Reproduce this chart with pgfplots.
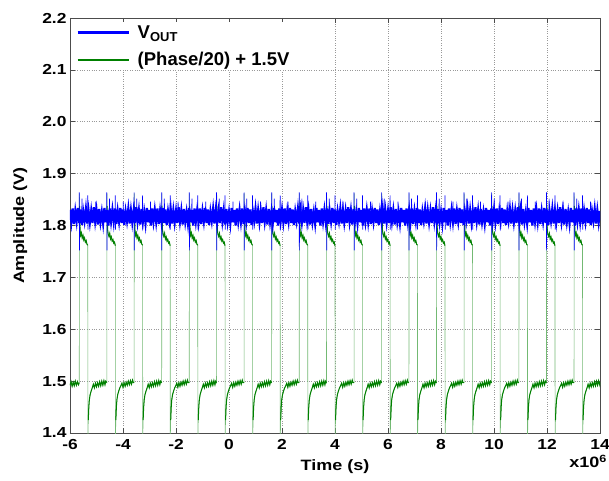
\documentclass[border=0pt]{standalone}
\usepackage{fontspec}
\setmainfont{Liberation Sans}
\newfontfamily\tickfam{Liberation Sans}[FakeStretch=1.2]
\usepackage{pgfplots}
\usepackage{pgfplotstable}
\pgfplotsset{compat=1.18}
\usetikzlibrary{calc}
\definecolor{vblue}{RGB}{0,0,255}
\definecolor{pgreen}{RGB}{0,128,0}
\definecolor{lgreen}{RGB}{115,185,115}
\newcommand{\tickfont}{\tickfam\fontsize{14.5bp}{16bp}\selectfont\bfseries}
\newcommand{\lblfont}{\tickfam\fontsize{15bp}{17bp}\selectfont\bfseries}
\newcommand{\legfont}{\fontsize{18.5bp}{20bp}\selectfont\bfseries}

% (Phase/20) + 1.5 V
\pgfplotstableread[row sep=\\]{
x y\\
-6.00 1.492\\ -5.96 1.499\\ -5.92 1.490\\ -5.88 1.498\\ -5.84 1.491\\ -5.80 1.500\\ -5.76 1.492\\ -5.72 1.499\\ -5.68 1.493\\
-5.65 1.497\\ -5.645 1.862\\ -5.64 1.838\\ -5.63 1.810\\ -5.62 1.792\\ -5.60 1.781\\ -5.57 1.786\\ -5.54 1.776\\ -5.51 1.781\\ -5.48 1.772\\ -5.45 1.776\\ -5.42 1.768\\ -5.39 1.771\\ -5.36 1.764\\ -5.33 1.762\\ -5.325 1.390\\ -5.31 1.425\\ -5.29 1.450\\ -5.27 1.464\\ -5.24 1.474\\ -5.20 1.481\\ -5.16 1.487\\ -5.12 1.494\\ -5.08 1.487\\ -5.04 1.496\\ -5.00 1.489\\ -4.96 1.497\\ -4.92 1.490\\ -4.88 1.499\\ -4.84 1.491\\ -4.80 1.500\\ -4.76 1.492\\ -4.72 1.501\\ -4.68 1.493\\ -4.65 1.500\\
-4.61 1.497\\ -4.605 1.862\\ -4.60 1.838\\ -4.59 1.810\\ -4.58 1.792\\ -4.56 1.784\\ -4.53 1.779\\ -4.50 1.785\\ -4.47 1.774\\ -4.44 1.778\\ -4.41 1.770\\ -4.38 1.773\\ -4.35 1.766\\ -4.32 1.768\\ -4.29 1.761\\ -4.285 1.390\\ -4.27 1.425\\ -4.25 1.450\\ -4.23 1.464\\ -4.20 1.474\\ -4.16 1.481\\ -4.12 1.487\\ -4.08 1.491\\ -4.04 1.496\\ -4.00 1.488\\ -3.96 1.497\\ -3.92 1.490\\ -3.88 1.498\\ -3.84 1.492\\ -3.80 1.500\\ -3.76 1.493\\ -3.72 1.501\\ -3.68 1.494\\ -3.64 1.502\\ -3.61 1.497\\
-3.58 1.497\\ -3.575 1.862\\ -3.57 1.838\\ -3.56 1.810\\ -3.55 1.792\\ -3.53 1.781\\ -3.50 1.786\\ -3.47 1.776\\ -3.44 1.781\\ -3.41 1.772\\ -3.38 1.776\\ -3.35 1.768\\ -3.32 1.771\\ -3.29 1.764\\ -3.26 1.762\\ -3.255 1.390\\ -3.24 1.425\\ -3.22 1.450\\ -3.20 1.464\\ -3.17 1.474\\ -3.13 1.481\\ -3.09 1.487\\ -3.05 1.494\\ -3.01 1.487\\ -2.97 1.496\\ -2.93 1.489\\ -2.89 1.497\\ -2.85 1.490\\ -2.81 1.499\\ -2.77 1.491\\ -2.73 1.500\\ -2.69 1.492\\ -2.65 1.501\\ -2.61 1.493\\ -2.58 1.500\\
-2.54 1.497\\ -2.535 1.862\\ -2.53 1.838\\ -2.52 1.810\\ -2.51 1.792\\ -2.49 1.784\\ -2.46 1.779\\ -2.43 1.785\\ -2.40 1.774\\ -2.37 1.778\\ -2.34 1.770\\ -2.31 1.773\\ -2.28 1.766\\ -2.25 1.768\\ -2.22 1.761\\ -2.215 1.390\\ -2.20 1.425\\ -2.18 1.450\\ -2.16 1.464\\ -2.13 1.474\\ -2.09 1.481\\ -2.05 1.487\\ -2.01 1.491\\ -1.97 1.496\\ -1.93 1.488\\ -1.89 1.497\\ -1.85 1.490\\ -1.81 1.498\\ -1.77 1.492\\ -1.73 1.500\\ -1.69 1.493\\ -1.65 1.501\\ -1.61 1.494\\ -1.57 1.502\\ -1.54 1.497\\
-1.50 1.497\\ -1.495 1.862\\ -1.49 1.838\\ -1.48 1.810\\ -1.47 1.792\\ -1.45 1.781\\ -1.42 1.786\\ -1.39 1.776\\ -1.36 1.781\\ -1.33 1.772\\ -1.30 1.776\\ -1.27 1.768\\ -1.24 1.771\\ -1.21 1.764\\ -1.18 1.762\\ -1.175 1.390\\ -1.16 1.425\\ -1.14 1.450\\ -1.12 1.464\\ -1.09 1.474\\ -1.05 1.481\\ -1.01 1.487\\ -0.97 1.494\\ -0.93 1.487\\ -0.89 1.496\\ -0.85 1.489\\ -0.81 1.497\\ -0.77 1.490\\ -0.73 1.499\\ -0.69 1.491\\ -0.65 1.500\\ -0.61 1.492\\ -0.57 1.501\\ -0.53 1.493\\ -0.50 1.500\\
-0.47 1.497\\ -0.465 1.862\\ -0.46 1.838\\ -0.45 1.810\\ -0.44 1.792\\ -0.42 1.784\\ -0.39 1.779\\ -0.36 1.785\\ -0.33 1.774\\ -0.30 1.778\\ -0.27 1.770\\ -0.24 1.773\\ -0.21 1.766\\ -0.18 1.768\\ -0.15 1.761\\ -0.145 1.390\\ -0.13 1.425\\ -0.11 1.450\\ -0.09 1.464\\ -0.06 1.474\\ -0.02 1.481\\ 0.02 1.487\\ 0.06 1.491\\ 0.10 1.496\\ 0.14 1.488\\ 0.18 1.497\\ 0.22 1.490\\ 0.26 1.498\\ 0.30 1.492\\ 0.34 1.500\\ 0.38 1.493\\ 0.42 1.501\\ 0.46 1.494\\ 0.50 1.502\\ 0.53 1.497\\
0.57 1.497\\ 0.575 1.862\\ 0.58 1.838\\ 0.59 1.810\\ 0.60 1.792\\ 0.62 1.781\\ 0.65 1.786\\ 0.68 1.776\\ 0.71 1.781\\ 0.74 1.772\\ 0.77 1.776\\ 0.80 1.768\\ 0.83 1.771\\ 0.86 1.764\\ 0.89 1.762\\ 0.895 1.390\\ 0.91 1.425\\ 0.93 1.450\\ 0.95 1.464\\ 0.98 1.474\\ 1.02 1.481\\ 1.06 1.487\\ 1.10 1.494\\ 1.14 1.487\\ 1.18 1.496\\ 1.22 1.489\\ 1.26 1.497\\ 1.30 1.490\\ 1.34 1.499\\ 1.38 1.491\\ 1.42 1.500\\ 1.46 1.492\\ 1.50 1.501\\ 1.54 1.493\\ 1.57 1.500\\
1.61 1.497\\ 1.615 1.862\\ 1.62 1.838\\ 1.63 1.810\\ 1.64 1.792\\ 1.66 1.784\\ 1.69 1.779\\ 1.72 1.785\\ 1.75 1.774\\ 1.78 1.778\\ 1.81 1.770\\ 1.84 1.773\\ 1.87 1.766\\ 1.90 1.768\\ 1.93 1.761\\ 1.935 1.390\\ 1.95 1.425\\ 1.97 1.450\\ 1.99 1.464\\ 2.02 1.474\\ 2.06 1.481\\ 2.10 1.487\\ 2.14 1.491\\ 2.18 1.496\\ 2.22 1.488\\ 2.26 1.497\\ 2.30 1.490\\ 2.34 1.498\\ 2.38 1.492\\ 2.42 1.500\\ 2.46 1.493\\ 2.50 1.501\\ 2.54 1.494\\ 2.58 1.502\\ 2.61 1.497\\
2.65 1.497\\ 2.655 1.862\\ 2.66 1.838\\ 2.67 1.810\\ 2.68 1.792\\ 2.70 1.781\\ 2.73 1.786\\ 2.76 1.776\\ 2.79 1.781\\ 2.82 1.772\\ 2.85 1.776\\ 2.88 1.768\\ 2.91 1.771\\ 2.94 1.764\\ 2.97 1.762\\ 2.975 1.390\\ 2.99 1.425\\ 3.01 1.450\\ 3.03 1.464\\ 3.06 1.474\\ 3.10 1.481\\ 3.14 1.487\\ 3.18 1.494\\ 3.22 1.487\\ 3.26 1.496\\ 3.30 1.489\\ 3.34 1.497\\ 3.38 1.490\\ 3.42 1.499\\ 3.46 1.491\\ 3.50 1.500\\ 3.54 1.492\\ 3.58 1.501\\ 3.62 1.493\\ 3.65 1.500\\
3.68 1.497\\ 3.685 1.862\\ 3.69 1.838\\ 3.70 1.810\\ 3.71 1.792\\ 3.73 1.784\\ 3.76 1.779\\ 3.79 1.785\\ 3.82 1.774\\ 3.85 1.778\\ 3.88 1.770\\ 3.91 1.773\\ 3.94 1.766\\ 3.97 1.768\\ 4.00 1.761\\ 4.005 1.390\\ 4.02 1.425\\ 4.04 1.450\\ 4.06 1.464\\ 4.09 1.474\\ 4.13 1.481\\ 4.17 1.487\\ 4.21 1.491\\ 4.25 1.496\\ 4.29 1.488\\ 4.33 1.497\\ 4.37 1.490\\ 4.41 1.498\\ 4.45 1.492\\ 4.49 1.500\\ 4.53 1.493\\ 4.57 1.501\\ 4.61 1.494\\ 4.65 1.502\\ 4.68 1.497\\
4.72 1.497\\ 4.725 1.862\\ 4.73 1.838\\ 4.74 1.810\\ 4.75 1.792\\ 4.77 1.781\\ 4.80 1.786\\ 4.83 1.776\\ 4.86 1.781\\ 4.89 1.772\\ 4.92 1.776\\ 4.95 1.768\\ 4.98 1.771\\ 5.01 1.764\\ 5.04 1.762\\ 5.045 1.390\\ 5.06 1.425\\ 5.08 1.450\\ 5.10 1.464\\ 5.13 1.474\\ 5.17 1.481\\ 5.21 1.487\\ 5.25 1.494\\ 5.29 1.487\\ 5.33 1.496\\ 5.37 1.489\\ 5.41 1.497\\ 5.45 1.490\\ 5.49 1.499\\ 5.53 1.491\\ 5.57 1.500\\ 5.61 1.492\\ 5.65 1.501\\ 5.69 1.493\\ 5.72 1.500\\
5.76 1.497\\ 5.765 1.862\\ 5.77 1.838\\ 5.78 1.810\\ 5.79 1.792\\ 5.81 1.784\\ 5.84 1.779\\ 5.87 1.785\\ 5.90 1.774\\ 5.93 1.778\\ 5.96 1.770\\ 5.99 1.773\\ 6.02 1.766\\ 6.05 1.768\\ 6.08 1.761\\ 6.085 1.390\\ 6.10 1.425\\ 6.12 1.450\\ 6.14 1.464\\ 6.17 1.474\\ 6.21 1.481\\ 6.25 1.487\\ 6.29 1.491\\ 6.33 1.496\\ 6.37 1.488\\ 6.41 1.497\\ 6.45 1.490\\ 6.49 1.498\\ 6.53 1.492\\ 6.57 1.500\\ 6.61 1.493\\ 6.65 1.501\\ 6.69 1.494\\ 6.73 1.502\\ 6.76 1.497\\
6.79 1.497\\ 6.795 1.862\\ 6.80 1.838\\ 6.81 1.810\\ 6.82 1.792\\ 6.84 1.781\\ 6.87 1.786\\ 6.90 1.776\\ 6.93 1.781\\ 6.96 1.772\\ 6.99 1.776\\ 7.02 1.768\\ 7.05 1.771\\ 7.08 1.764\\ 7.11 1.762\\ 7.115 1.390\\ 7.13 1.425\\ 7.15 1.450\\ 7.17 1.464\\ 7.20 1.474\\ 7.24 1.481\\ 7.28 1.487\\ 7.32 1.494\\ 7.36 1.487\\ 7.40 1.496\\ 7.44 1.489\\ 7.48 1.497\\ 7.52 1.490\\ 7.56 1.499\\ 7.60 1.491\\ 7.64 1.500\\ 7.68 1.492\\ 7.72 1.501\\ 7.76 1.493\\ 7.79 1.500\\
7.83 1.497\\ 7.835 1.862\\ 7.84 1.838\\ 7.85 1.810\\ 7.86 1.792\\ 7.88 1.784\\ 7.91 1.779\\ 7.94 1.785\\ 7.97 1.774\\ 8.00 1.778\\ 8.03 1.770\\ 8.06 1.773\\ 8.09 1.766\\ 8.12 1.768\\ 8.15 1.761\\ 8.155 1.390\\ 8.17 1.425\\ 8.19 1.450\\ 8.21 1.464\\ 8.24 1.474\\ 8.28 1.481\\ 8.32 1.487\\ 8.36 1.491\\ 8.40 1.496\\ 8.44 1.488\\ 8.48 1.497\\ 8.52 1.490\\ 8.56 1.498\\ 8.60 1.492\\ 8.64 1.500\\ 8.68 1.493\\ 8.72 1.501\\ 8.76 1.494\\ 8.80 1.502\\ 8.83 1.497\\
8.87 1.497\\ 8.875 1.862\\ 8.88 1.838\\ 8.89 1.810\\ 8.90 1.792\\ 8.92 1.781\\ 8.95 1.786\\ 8.98 1.776\\ 9.01 1.781\\ 9.04 1.772\\ 9.07 1.776\\ 9.10 1.768\\ 9.13 1.771\\ 9.16 1.764\\ 9.19 1.762\\ 9.195 1.390\\ 9.21 1.425\\ 9.23 1.450\\ 9.25 1.464\\ 9.28 1.474\\ 9.32 1.481\\ 9.36 1.487\\ 9.40 1.494\\ 9.44 1.487\\ 9.48 1.496\\ 9.52 1.489\\ 9.56 1.497\\ 9.60 1.490\\ 9.64 1.499\\ 9.68 1.491\\ 9.72 1.500\\ 9.76 1.492\\ 9.80 1.501\\ 9.84 1.493\\ 9.87 1.500\\
9.91 1.497\\ 9.915 1.862\\ 9.92 1.838\\ 9.93 1.810\\ 9.94 1.792\\ 9.96 1.784\\ 9.99 1.779\\ 10.02 1.785\\ 10.05 1.774\\ 10.08 1.778\\ 10.11 1.770\\ 10.14 1.773\\ 10.17 1.766\\ 10.20 1.768\\ 10.23 1.761\\ 10.235 1.390\\ 10.25 1.425\\ 10.27 1.450\\ 10.29 1.464\\ 10.32 1.474\\ 10.36 1.481\\ 10.40 1.487\\ 10.44 1.491\\ 10.48 1.496\\ 10.52 1.488\\ 10.56 1.497\\ 10.60 1.490\\ 10.64 1.498\\ 10.68 1.492\\ 10.72 1.500\\ 10.76 1.493\\ 10.80 1.501\\ 10.84 1.494\\ 10.88 1.502\\ 10.91 1.497\\
10.94 1.497\\ 10.945 1.862\\ 10.95 1.838\\ 10.96 1.810\\ 10.97 1.792\\ 10.99 1.781\\ 11.02 1.786\\ 11.05 1.776\\ 11.08 1.781\\ 11.11 1.772\\ 11.14 1.776\\ 11.17 1.768\\ 11.20 1.771\\ 11.23 1.764\\ 11.26 1.762\\ 11.265 1.390\\ 11.28 1.425\\ 11.30 1.450\\ 11.32 1.464\\ 11.35 1.474\\ 11.39 1.481\\ 11.43 1.487\\ 11.47 1.494\\ 11.51 1.487\\ 11.55 1.496\\ 11.59 1.489\\ 11.63 1.497\\ 11.67 1.490\\ 11.71 1.499\\ 11.75 1.491\\ 11.79 1.500\\ 11.83 1.492\\ 11.87 1.501\\ 11.91 1.493\\ 11.94 1.500\\
11.98 1.497\\ 11.985 1.862\\ 11.99 1.838\\ 12.00 1.810\\ 12.01 1.792\\ 12.03 1.784\\ 12.06 1.779\\ 12.09 1.785\\ 12.12 1.774\\ 12.15 1.778\\ 12.18 1.770\\ 12.21 1.773\\ 12.24 1.766\\ 12.27 1.768\\ 12.30 1.761\\ 12.305 1.390\\ 12.32 1.425\\ 12.34 1.450\\ 12.36 1.464\\ 12.39 1.474\\ 12.43 1.481\\ 12.47 1.487\\ 12.51 1.491\\ 12.55 1.496\\ 12.59 1.488\\ 12.63 1.497\\ 12.67 1.490\\ 12.71 1.498\\ 12.75 1.492\\ 12.79 1.500\\ 12.83 1.493\\ 12.87 1.501\\ 12.91 1.494\\ 12.95 1.502\\ 12.98 1.497\\
13.02 1.497\\ 13.025 1.862\\ 13.03 1.838\\ 13.04 1.810\\ 13.05 1.792\\ 13.07 1.781\\ 13.10 1.786\\ 13.13 1.776\\ 13.16 1.781\\ 13.19 1.772\\ 13.22 1.776\\ 13.25 1.768\\ 13.28 1.771\\ 13.31 1.764\\ 13.34 1.762\\ 13.345 1.390\\ 13.36 1.425\\ 13.38 1.450\\ 13.40 1.464\\ 13.43 1.474\\ 13.47 1.481\\ 13.51 1.487\\ 13.55 1.494\\ 13.59 1.487\\ 13.63 1.496\\ 13.67 1.489\\ 13.71 1.497\\ 13.75 1.490\\ 13.79 1.499\\ 13.83 1.491\\ 13.87 1.500\\ 13.91 1.492\\ 13.95 1.501\\ 13.99 1.493\\ 14.00 1.498\\
}\phasetab

\begin{document}
\begin{tikzpicture}
\begin{axis}[
 width=530bp, height=415bp, scale only axis,
 xmin=-6, xmax=14, ymin=1.4, ymax=2.2,
 xtick={-6,-4,-2,0,2,4,6,8,10,12,14},
 ytick={1.4,1.5,1.6,1.7,1.8,1.9,2.0,2.1,2.2},
 yticklabel style={/pgf/number format/.cd, fixed, fixed zerofill, precision=1},
 xticklabel style={yshift=-3bp},
 /pgf/number format/assume math mode=true,
 tick label style={font=\tickfont},
 grid=major, grid style={dotted, line width=0.6bp, black!40},
 tick align=inside, major tick length=5bp,
 axis line style={line width=0.6bp, black!70},
 every tick/.style={black!70, line width=0.6bp},
 xlabel={Time (s)}, ylabel={Amplitude (V)},
 label style={font=\lblfont},
 xlabel style={at={(axis description cs:0.5,-0.082)}, anchor=center},
 ylabel style={at={(axis description cs:-0.094,0.5)}, anchor=center},
 unbounded coords=jump,
 legend style={draw=none, fill=white, at={(axis description cs:0.010,0.990)}, anchor=north west, font=\legfont, row sep=9bp, inner sep=1bp},
 legend cell align=left,
 legend image code/.code={\path[draw=none] (0bp,0bp) -- (58bp,0bp);\draw[#1,line width=2.5bp] (0bp,0bp) -- (51bp,0bp);},
]
\addlegendimage{vblue}
\addlegendentry{V\textsubscript{OUT}}
\addlegendimage{pgreen}
\addlegendentry{(Phase/20) + 1.5V}

% green trace: thin pale transitions, then the dense noisy levels over it
\addplot[lgreen, line width=0.6bp, forget plot] table[x=x, y=y] {\phasetab};
\addplot[pgreen, line width=1.0bp, forget plot, restrict y to domain=1.40:1.845] table[x=x, y=y] {\phasetab};

% blue: VOUT noise band
\addplot[vblue, line width=2.2bp, forget plot] coordinates {
(-6.00,1.830)(-5.95,1.807)(-5.90,1.833)(-5.85,1.803)(-5.80,1.828)(-5.75,1.808)(-5.70,1.834)(-5.65,1.805)(-5.60,1.831)(-5.55,1.801)(-5.50,1.827)(-5.45,1.809)(-5.40,1.832)(-5.35,1.804)(-5.30,1.829)(-5.25,1.806)
(-5.20,1.828)(-5.15,1.805)(-5.10,1.835)(-5.05,1.808)(-5.00,1.829)(-4.95,1.802)(-4.90,1.832)(-4.85,1.807)(-4.80,1.826)(-4.75,1.804)(-4.70,1.834)(-4.65,1.806)(-4.60,1.830)(-4.55,1.800)(-4.50,1.833)(-4.45,1.808)
(-4.40,1.830)(-4.35,1.807)(-4.30,1.833)(-4.25,1.803)(-4.20,1.828)(-4.15,1.808)(-4.10,1.834)(-4.05,1.805)(-4.00,1.831)(-3.95,1.801)(-3.90,1.827)(-3.85,1.809)(-3.80,1.832)(-3.75,1.804)(-3.70,1.829)(-3.65,1.806)
(-3.60,1.828)(-3.55,1.805)(-3.50,1.835)(-3.45,1.808)(-3.40,1.829)(-3.35,1.802)(-3.30,1.832)(-3.25,1.807)(-3.20,1.826)(-3.15,1.804)(-3.10,1.834)(-3.05,1.806)(-3.00,1.830)(-2.95,1.800)(-2.90,1.833)(-2.85,1.808)
(-2.80,1.830)(-2.75,1.807)(-2.70,1.833)(-2.65,1.803)(-2.60,1.828)(-2.55,1.808)(-2.50,1.834)(-2.45,1.805)(-2.40,1.831)(-2.35,1.801)(-2.30,1.827)(-2.25,1.809)(-2.20,1.832)(-2.15,1.804)(-2.10,1.829)(-2.05,1.806)
(-2.00,1.828)(-1.95,1.805)(-1.90,1.835)(-1.85,1.808)(-1.80,1.829)(-1.75,1.802)(-1.70,1.832)(-1.65,1.807)(-1.60,1.826)(-1.55,1.804)(-1.50,1.834)(-1.45,1.806)(-1.40,1.830)(-1.35,1.800)(-1.30,1.833)(-1.25,1.808)
(-1.20,1.830)(-1.15,1.807)(-1.10,1.833)(-1.05,1.803)(-1.00,1.828)(-0.95,1.808)(-0.90,1.834)(-0.85,1.805)(-0.80,1.831)(-0.75,1.801)(-0.70,1.827)(-0.65,1.809)(-0.60,1.832)(-0.55,1.804)(-0.50,1.829)(-0.45,1.806)
(-0.40,1.828)(-0.35,1.805)(-0.30,1.835)(-0.25,1.808)(-0.20,1.829)(-0.15,1.802)(-0.10,1.832)(-0.05,1.807)(0.00,1.826)(0.05,1.804)(0.10,1.834)(0.15,1.806)(0.20,1.830)(0.25,1.800)(0.30,1.833)(0.35,1.808)
(0.40,1.830)(0.45,1.807)(0.50,1.833)(0.55,1.803)(0.60,1.828)(0.65,1.808)(0.70,1.834)(0.75,1.805)(0.80,1.831)(0.85,1.801)(0.90,1.827)(0.95,1.809)(1.00,1.832)(1.05,1.804)(1.10,1.829)(1.15,1.806)
(1.20,1.828)(1.25,1.805)(1.30,1.835)(1.35,1.808)(1.40,1.829)(1.45,1.802)(1.50,1.832)(1.55,1.807)(1.60,1.826)(1.65,1.804)(1.70,1.834)(1.75,1.806)(1.80,1.830)(1.85,1.800)(1.90,1.833)(1.95,1.808)
(2.00,1.830)(2.05,1.807)(2.10,1.833)(2.15,1.803)(2.20,1.828)(2.25,1.808)(2.30,1.834)(2.35,1.805)(2.40,1.831)(2.45,1.801)(2.50,1.827)(2.55,1.809)(2.60,1.832)(2.65,1.804)(2.70,1.829)(2.75,1.806)
(2.80,1.828)(2.85,1.805)(2.90,1.835)(2.95,1.808)(3.00,1.829)(3.05,1.802)(3.10,1.832)(3.15,1.807)(3.20,1.826)(3.25,1.804)(3.30,1.834)(3.35,1.806)(3.40,1.830)(3.45,1.800)(3.50,1.833)(3.55,1.808)
(3.60,1.830)(3.65,1.807)(3.70,1.833)(3.75,1.803)(3.80,1.828)(3.85,1.808)(3.90,1.834)(3.95,1.805)(4.00,1.831)(4.05,1.801)(4.10,1.827)(4.15,1.809)(4.20,1.832)(4.25,1.804)(4.30,1.829)(4.35,1.806)
(4.40,1.828)(4.45,1.805)(4.50,1.835)(4.55,1.808)(4.60,1.829)(4.65,1.802)(4.70,1.832)(4.75,1.807)(4.80,1.826)(4.85,1.804)(4.90,1.834)(4.95,1.806)(5.00,1.830)(5.05,1.800)(5.10,1.833)(5.15,1.808)
(5.20,1.830)(5.25,1.807)(5.30,1.833)(5.35,1.803)(5.40,1.828)(5.45,1.808)(5.50,1.834)(5.55,1.805)(5.60,1.831)(5.65,1.801)(5.70,1.827)(5.75,1.809)(5.80,1.832)(5.85,1.804)(5.90,1.829)(5.95,1.806)
(6.00,1.828)(6.05,1.805)(6.10,1.835)(6.15,1.808)(6.20,1.829)(6.25,1.802)(6.30,1.832)(6.35,1.807)(6.40,1.826)(6.45,1.804)(6.50,1.834)(6.55,1.806)(6.60,1.830)(6.65,1.800)(6.70,1.833)(6.75,1.808)
(6.80,1.830)(6.85,1.807)(6.90,1.833)(6.95,1.803)(7.00,1.828)(7.05,1.808)(7.10,1.834)(7.15,1.805)(7.20,1.831)(7.25,1.801)(7.30,1.827)(7.35,1.809)(7.40,1.832)(7.45,1.804)(7.50,1.829)(7.55,1.806)
(7.60,1.828)(7.65,1.805)(7.70,1.835)(7.75,1.808)(7.80,1.829)(7.85,1.802)(7.90,1.832)(7.95,1.807)(8.00,1.826)(8.05,1.804)(8.10,1.834)(8.15,1.806)(8.20,1.830)(8.25,1.800)(8.30,1.833)(8.35,1.808)
(8.40,1.830)(8.45,1.807)(8.50,1.833)(8.55,1.803)(8.60,1.828)(8.65,1.808)(8.70,1.834)(8.75,1.805)(8.80,1.831)(8.85,1.801)(8.90,1.827)(8.95,1.809)(9.00,1.832)(9.05,1.804)(9.10,1.829)(9.15,1.806)
(9.20,1.828)(9.25,1.805)(9.30,1.835)(9.35,1.808)(9.40,1.829)(9.45,1.802)(9.50,1.832)(9.55,1.807)(9.60,1.826)(9.65,1.804)(9.70,1.834)(9.75,1.806)(9.80,1.830)(9.85,1.800)(9.90,1.833)(9.95,1.808)
(10.00,1.830)(10.05,1.807)(10.10,1.833)(10.15,1.803)(10.20,1.828)(10.25,1.808)(10.30,1.834)(10.35,1.805)(10.40,1.831)(10.45,1.801)(10.50,1.827)(10.55,1.809)(10.60,1.832)(10.65,1.804)(10.70,1.829)(10.75,1.806)
(10.80,1.828)(10.85,1.805)(10.90,1.835)(10.95,1.808)(11.00,1.829)(11.05,1.802)(11.10,1.832)(11.15,1.807)(11.20,1.826)(11.25,1.804)(11.30,1.834)(11.35,1.806)(11.40,1.830)(11.45,1.800)(11.50,1.833)(11.55,1.808)
(11.60,1.830)(11.65,1.807)(11.70,1.833)(11.75,1.803)(11.80,1.828)(11.85,1.808)(11.90,1.834)(11.95,1.805)(12.00,1.831)(12.05,1.801)(12.10,1.827)(12.15,1.809)(12.20,1.832)(12.25,1.804)(12.30,1.829)(12.35,1.806)
(12.40,1.828)(12.45,1.805)(12.50,1.835)(12.55,1.808)(12.60,1.829)(12.65,1.802)(12.70,1.832)(12.75,1.807)(12.80,1.826)(12.85,1.804)(12.90,1.834)(12.95,1.806)(13.00,1.830)(13.05,1.800)(13.10,1.833)(13.15,1.808)
(13.20,1.830)(13.25,1.807)(13.30,1.833)(13.35,1.803)(13.40,1.828)(13.45,1.808)(13.50,1.834)(13.55,1.805)(13.60,1.831)(13.65,1.801)(13.70,1.827)(13.75,1.809)(13.80,1.832)(13.85,1.804)(13.90,1.829)(13.95,1.806)
(14.00,1.828)
};

% blue: VOUT spikes at the switching edges
\addplot[vblue, line width=0.7bp, forget plot] coordinates {
(-5.655,1.82)(-5.65,1.864)(-5.645,1.752)(-5.64,1.80)(-5.635,1.82)(-5.63,nan)(-5.555,1.825)(-5.55,1.852)(-5.545,1.83)(-5.54,nan)(-5.335,1.83)(-5.33,1.858)(-5.323,1.792)(-5.316,1.82)(-5.31,nan)(-5.035,1.83)(-5.03,1.846)(-5.025,1.83)(-5.02,nan)
(-4.615,1.82)(-4.61,1.864)(-4.605,1.752)(-4.60,1.80)(-4.595,1.82)(-4.59,nan)(-4.515,1.825)(-4.51,1.852)(-4.505,1.83)(-4.50,nan)(-4.295,1.83)(-4.29,1.858)(-4.283,1.792)(-4.276,1.82)(-4.27,nan)(-3.995,1.83)(-3.99,1.846)(-3.985,1.83)(-3.98,nan)
(-3.585,1.82)(-3.58,1.864)(-3.575,1.752)(-3.57,1.80)(-3.565,1.82)(-3.56,nan)(-3.485,1.825)(-3.48,1.852)(-3.475,1.83)(-3.47,nan)(-3.265,1.83)(-3.26,1.858)(-3.253,1.792)(-3.246,1.82)(-3.24,nan)(-2.965,1.83)(-2.96,1.846)(-2.955,1.83)(-2.95,nan)
(-2.545,1.82)(-2.54,1.864)(-2.535,1.752)(-2.53,1.80)(-2.525,1.82)(-2.52,nan)(-2.445,1.825)(-2.44,1.852)(-2.435,1.83)(-2.43,nan)(-2.225,1.83)(-2.22,1.858)(-2.213,1.792)(-2.206,1.82)(-2.20,nan)(-1.925,1.83)(-1.92,1.846)(-1.915,1.83)(-1.91,nan)
(-1.505,1.82)(-1.50,1.864)(-1.495,1.752)(-1.49,1.80)(-1.485,1.82)(-1.48,nan)(-1.405,1.825)(-1.40,1.852)(-1.395,1.83)(-1.39,nan)(-1.185,1.83)(-1.18,1.858)(-1.173,1.792)(-1.166,1.82)(-1.16,nan)(-0.885,1.83)(-0.88,1.846)(-0.875,1.83)(-0.87,nan)
(-0.475,1.82)(-0.47,1.864)(-0.465,1.752)(-0.46,1.80)(-0.455,1.82)(-0.45,nan)(-0.375,1.825)(-0.37,1.852)(-0.365,1.83)(-0.36,nan)(-0.155,1.83)(-0.15,1.858)(-0.143,1.792)(-0.136,1.82)(-0.13,nan)(0.145,1.83)(0.15,1.846)(0.155,1.83)(0.16,nan)
(0.565,1.82)(0.57,1.864)(0.575,1.752)(0.58,1.80)(0.585,1.82)(0.59,nan)(0.665,1.825)(0.67,1.852)(0.675,1.83)(0.68,nan)(0.885,1.83)(0.89,1.858)(0.897,1.792)(0.904,1.82)(0.91,nan)(1.185,1.83)(1.19,1.846)(1.195,1.83)(1.20,nan)
(1.605,1.82)(1.61,1.864)(1.615,1.752)(1.62,1.80)(1.625,1.82)(1.63,nan)(1.705,1.825)(1.71,1.852)(1.715,1.83)(1.72,nan)(1.925,1.83)(1.93,1.858)(1.937,1.792)(1.944,1.82)(1.95,nan)(2.225,1.83)(2.23,1.846)(2.235,1.83)(2.24,nan)
(2.645,1.82)(2.65,1.864)(2.655,1.752)(2.66,1.80)(2.665,1.82)(2.67,nan)(2.745,1.825)(2.75,1.852)(2.755,1.83)(2.76,nan)(2.965,1.83)(2.97,1.858)(2.977,1.792)(2.984,1.82)(2.99,nan)(3.265,1.83)(3.27,1.846)(3.275,1.83)(3.28,nan)
(3.675,1.82)(3.68,1.864)(3.685,1.752)(3.69,1.80)(3.695,1.82)(3.70,nan)(3.775,1.825)(3.78,1.852)(3.785,1.83)(3.79,nan)(3.995,1.83)(4.00,1.858)(4.007,1.792)(4.014,1.82)(4.02,nan)(4.295,1.83)(4.30,1.846)(4.305,1.83)(4.31,nan)
(4.715,1.82)(4.72,1.864)(4.725,1.752)(4.73,1.80)(4.735,1.82)(4.74,nan)(4.815,1.825)(4.82,1.852)(4.825,1.83)(4.83,nan)(5.035,1.83)(5.04,1.858)(5.047,1.792)(5.054,1.82)(5.06,nan)(5.335,1.83)(5.34,1.846)(5.345,1.83)(5.35,nan)
(5.755,1.82)(5.76,1.864)(5.765,1.752)(5.77,1.80)(5.775,1.82)(5.78,nan)(5.855,1.825)(5.86,1.852)(5.865,1.83)(5.87,nan)(6.075,1.83)(6.08,1.858)(6.087,1.792)(6.094,1.82)(6.10,nan)(6.375,1.83)(6.38,1.846)(6.385,1.83)(6.39,nan)
(6.785,1.82)(6.79,1.864)(6.795,1.752)(6.80,1.80)(6.805,1.82)(6.81,nan)(6.885,1.825)(6.89,1.852)(6.895,1.83)(6.90,nan)(7.105,1.83)(7.11,1.858)(7.117,1.792)(7.124,1.82)(7.13,nan)(7.405,1.83)(7.41,1.846)(7.415,1.83)(7.42,nan)
(7.825,1.82)(7.83,1.864)(7.835,1.752)(7.84,1.80)(7.845,1.82)(7.85,nan)(7.925,1.825)(7.93,1.852)(7.935,1.83)(7.94,nan)(8.145,1.83)(8.15,1.858)(8.157,1.792)(8.164,1.82)(8.17,nan)(8.445,1.83)(8.45,1.846)(8.455,1.83)(8.46,nan)
(8.865,1.82)(8.87,1.864)(8.875,1.752)(8.88,1.80)(8.885,1.82)(8.89,nan)(8.965,1.825)(8.97,1.852)(8.975,1.83)(8.98,nan)(9.185,1.83)(9.19,1.858)(9.197,1.792)(9.204,1.82)(9.21,nan)(9.485,1.83)(9.49,1.846)(9.495,1.83)(9.50,nan)
(9.905,1.82)(9.91,1.864)(9.915,1.752)(9.92,1.80)(9.925,1.82)(9.93,nan)(10.005,1.825)(10.01,1.852)(10.015,1.83)(10.02,nan)(10.225,1.83)(10.23,1.858)(10.237,1.792)(10.244,1.82)(10.25,nan)(10.525,1.83)(10.53,1.846)(10.535,1.83)(10.54,nan)
(10.935,1.82)(10.94,1.864)(10.945,1.752)(10.95,1.80)(10.955,1.82)(10.96,nan)(11.035,1.825)(11.04,1.852)(11.045,1.83)(11.05,nan)(11.255,1.83)(11.26,1.858)(11.267,1.792)(11.274,1.82)(11.28,nan)(11.555,1.83)(11.56,1.846)(11.565,1.83)(11.57,nan)
(11.975,1.82)(11.98,1.864)(11.985,1.752)(11.99,1.80)(11.995,1.82)(12.00,nan)(12.075,1.825)(12.08,1.852)(12.085,1.83)(12.09,nan)(12.295,1.83)(12.30,1.858)(12.307,1.792)(12.314,1.82)(12.32,nan)(12.595,1.83)(12.60,1.846)(12.605,1.83)(12.61,nan)
(13.015,1.82)(13.02,1.864)(13.025,1.752)(13.03,1.80)(13.035,1.82)(13.04,nan)(13.115,1.825)(13.12,1.852)(13.125,1.83)(13.13,nan)(13.335,1.83)(13.34,1.858)(13.347,1.792)(13.354,1.82)(13.36,nan)(13.635,1.83)(13.64,1.846)(13.645,1.83)(13.65,nan)
};
\end{axis}
\node[anchor=north east, font=\lblfont, inner sep=0pt] at ($(current axis.south east)+(7bp,-22bp)$) {x10\textsuperscript{6}};
\pgfresetboundingbox
\useasboundingbox ($(current axis.south west)+(-70bp,-48bp)$) rectangle ($(current axis.north east)+(9bp,18bp)$);
\end{tikzpicture}
\end{document}
